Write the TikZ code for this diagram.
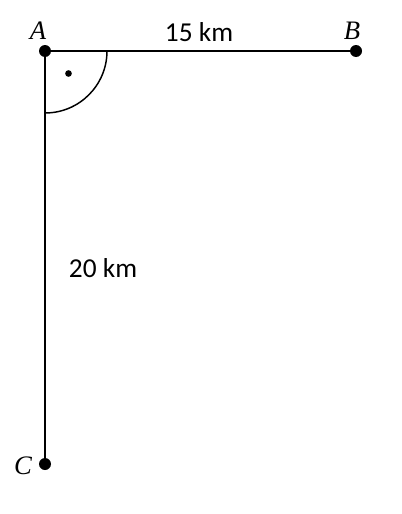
\documentclass[tikz,border=0pt]{standalone}
\usepackage{fontspec}
\setmainfont{Carlito}
\newfontfamily\ptfont{Liberation Serif}
\begin{document}
\begin{tikzpicture}[x=0.75pt,y=-0.75pt,
  seg/.style={line width=1.1pt},
  pt/.style={circle,fill=black,inner sep=0pt,minimum size=9pt},
  ptlabel/.style={font=\fontsize{20}{24}\selectfont\ptfont\itshape},
  len/.style={font=\fontsize{20.5}{24}\selectfont}]
\useasboundingbox (0,0) rectangle (401,514);
\node[pt] (A) at (45,51) {};
\node[pt] (B) at (356,51) {};
\node[pt] (C) at (45,464) {};
\draw[seg] (A.center) -- (B.center);
\draw[seg] (A.center) -- (C.center);
\draw[seg] ([xshift=62*0.75pt]A.center) arc[start angle=0,end angle=-90,radius=62*0.75pt];
\node[circle,fill=black,inner sep=0pt,minimum size=5pt] (dot) at (68.5,73.5) {};
\node[ptlabel] (la) at (38,31) {A};
\node[ptlabel] (lb) at (352,31) {B};
\node[ptlabel] (lc) at (23,466) {C};
\node[len] (l1) at (199,32) {15 km};
\node[len] (l2) at (103,268) {20 km};
\end{tikzpicture}
\end{document}
